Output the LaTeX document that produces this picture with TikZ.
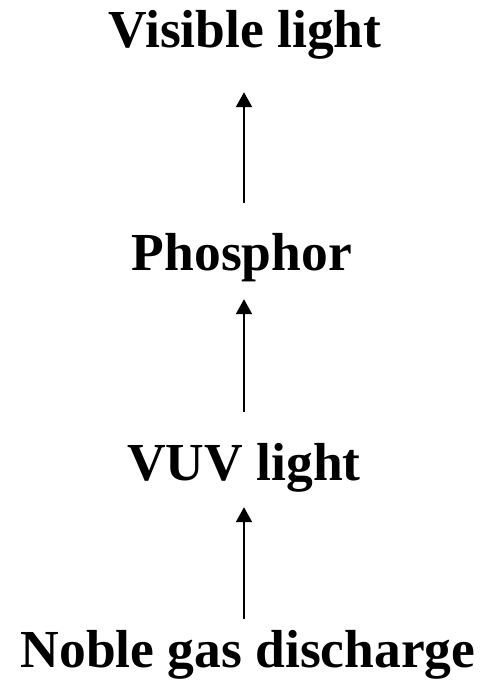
\documentclass[tikz,border=0pt]{standalone}
\usepackage{fontspec}
\setmainfont{Liberation Serif}
\usetikzlibrary{arrows.meta}

\begin{document}
\begin{tikzpicture}[x=1pt, y=-1pt,
    stage/.style={font=\fontsize{53.5}{60}\selectfont\bfseries, inner sep=0pt,
        text height=36pt, text depth=11pt, anchor=base},
    flow/.style={line width=2.2pt, -{Triangle[width=16pt, length=15pt]}}]
    \useasboundingbox (0,0) rectangle (490,682);

    % Stages, bottom to top
    \node[stage] (visible) at (245,48) {Visible light};
    \node[stage] (phosphor) at (242,270) {Phosphor};
    \node[stage] (vuv) at (244,480) {VUV light};
    \node[stage] (noble) at (248,667) {Noble gas discharge};

    % Arrows
    \draw[flow, shorten <=12pt, shorten >=16pt] (noble.north -| vuv.south) -- (vuv.south);
    \draw[flow, shorten <=32pt, shorten >=18pt] (vuv.north) -- (vuv.north |- phosphor.south);
    \draw[flow, shorten <=31pt, shorten >=33pt] (vuv.north |- phosphor.north) -- (vuv.north |- visible.south);
\end{tikzpicture}
\end{document}
